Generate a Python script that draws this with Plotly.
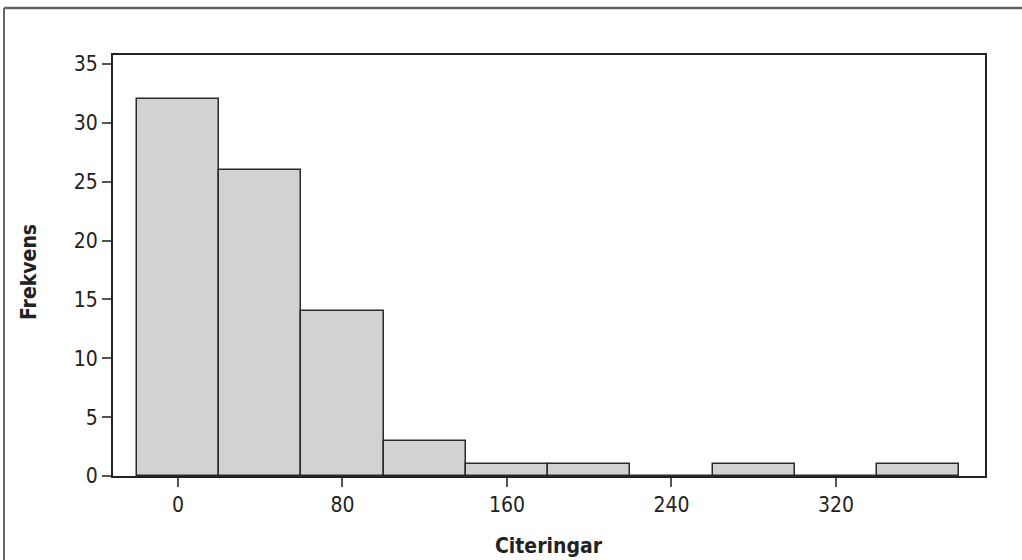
import plotly.graph_objects as go

bin_centers = [0, 40, 80, 120, 160, 200, 240, 280, 320, 360]
counts = [32, 26, 14, 3, 1, 1, 0, 1, 0, 1]
bin_width = 40
x_ticks = [0, 80, 160, 240, 320]
y_ticks = [0, 5, 10, 15, 20, 25, 30, 35]
x_title = "Citeringar"
y_title = "Frekvens"

FONT = "Liberation Sans Narrow, DejaVu Sans Condensed, Arial Narrow, sans-serif"

fig = go.Figure()
fig.add_trace(go.Bar(
    x=bin_centers, y=counts, width=bin_width,
    marker=dict(color="#d1d2d4", line=dict(color="#2a2a2a", width=1.5)),
    hoverinfo="x+y",
))

L, R, T, B = 113, 37, 55, 84
W, H = 1022, 560
pw, ph = W - L - R, H - T - B

def px_x(p):
    return (p - L) / pw

def px_y(p):
    return (H - B - p) / ph

fig.update_layout(
    width=W, height=H,
    margin=dict(l=L, r=R, t=T, b=B, pad=0),
    paper_bgcolor="white", plot_bgcolor="white",
    showlegend=False,
    bargap=0,
    font=dict(family=FONT, size=21, color="#222"),
    xaxis=dict(
        range=[-31.6, 392.5], tickvals=x_ticks, ticktext=[str(v) for v in x_ticks],
        ticks="outside", ticklen=9, tickwidth=1.5, tickcolor="#555",
        showline=True, linecolor="#222", linewidth=2, mirror=True,
        showgrid=False, zeroline=False,
        tickfont=dict(family=FONT, size=21, color="#222"),
    ),
    yaxis=dict(
        range=[0, 35.77], tickvals=y_ticks, ticktext=[str(v) for v in y_ticks],
        ticks="outside", ticklen=9, tickwidth=1.5, tickcolor="#555",
        showline=True, linecolor="#222", linewidth=2, mirror=True,
        showgrid=False, zeroline=False,
        tickfont=dict(family=FONT, size=21, color="#222"),
    ),
    annotations=[
        dict(text=f"<b>{x_title}</b>", xref="paper", yref="paper",
             x=0.5, y=px_y(546), xanchor="center", yanchor="middle",
             showarrow=False, font=dict(family=FONT, size=21, color="#222")),
        dict(text=f"<b>{y_title}</b>", xref="paper", yref="paper",
             x=px_x(29), y=px_y(272), xanchor="center", yanchor="middle",
             textangle=-90, showarrow=False,
             font=dict(family=FONT, size=21, color="#222")),
    ],
    shapes=[
        dict(type="line", xref="paper", yref="paper",
             x0=px_x(4), x1=px_x(1030), y0=px_y(8), y1=px_y(8),
             line=dict(color="#666", width=2.5)),
        dict(type="line", xref="paper", yref="paper",
             x0=px_x(4), x1=px_x(4), y0=px_y(8), y1=px_y(570),
             line=dict(color="#666", width=2)),
    ],
)

fig.write_html(
    "out.html",
    config={"displayModeBar": False},
    post_script="document.body.style.margin='0';document.body.style.overflow='hidden';",
)
